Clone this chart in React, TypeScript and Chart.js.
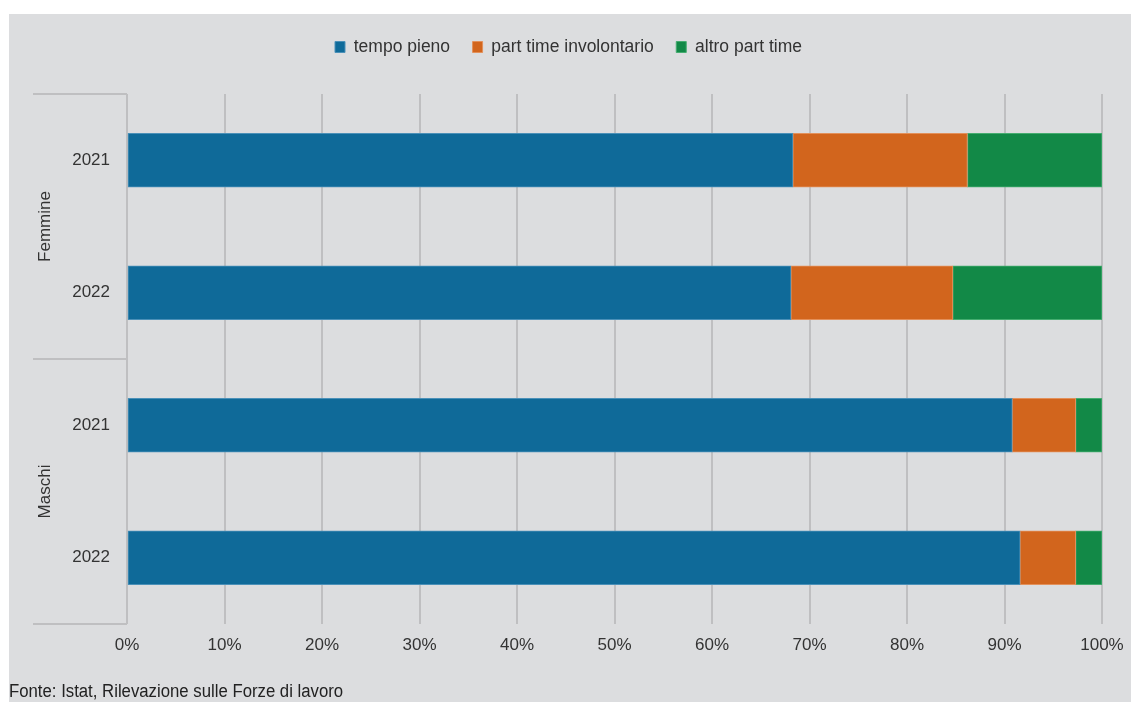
import React, { useEffect, useRef } from "react";
import { Chart, registerables } from "chart.js";

Chart.register(...registerables);

// ---- data ----
const yearLabels = ["2021", "2022", "2021", "2022"];
const groupLabels = ["Femmine", "Maschi"];
const seriesNames = ["tempo pieno", "part time involontario", "altro part time"];
const tempoPieno = [68.3, 68.1, 90.8, 91.6];
const partTimeInvolontario = [17.9, 16.6, 6.5, 5.7];
const altroPartTime = [13.8, 15.3, 2.7, 2.7];
const xTicks = [0, 10, 20, 30, 40, 50, 60, 70, 80, 90, 100];
const sourceNote = "Fonte: Istat, Rilevazione sulle Forze di lavoro";

const COLORS = ["#0f6a99", "#d2651d", "#128947"];
const BORDERS = ["#4a90b8", "#e3905a", "#45ad70"];
const GRID = "#bfbfc1";
const TEXT = "#333333";
const FONT = "'Liberation Sans', Arial, Helvetica, sans-serif";

const groupPlugin = {
  id: "groupAxis",
  afterLayout(chart: any) {
    // nudge the legend row to the reference position
    if (chart.legend) {
      chart.legend.left += 13;
      chart.legend.right += 13;
    }
  },
  afterDraw(chart: any) {
    const { ctx, chartArea } = chart;
    const y = chart.scales.y;
    const x0 = 24;
    const left = chartArea.left;
    const bounds = [
      y.getPixelForValue(0) - (y.getPixelForValue(1) - y.getPixelForValue(0)) / 2,
      (y.getPixelForValue(1) + y.getPixelForValue(2)) / 2,
      y.getPixelForValue(3) + (y.getPixelForValue(3) - y.getPixelForValue(2)) / 2,
    ];
    ctx.save();
    ctx.strokeStyle = GRID;
    ctx.lineWidth = 2;
    bounds.forEach((b) => {
      ctx.beginPath();
      ctx.moveTo(x0, Math.round(b));
      ctx.lineTo(left, Math.round(b));
      ctx.stroke();
    });
    ctx.fillStyle = TEXT;
    ctx.font = `17px ${FONT}`;
    ctx.textAlign = "center";
    ctx.textBaseline = "middle";
    groupLabels.forEach((g, i) => {
      const cy = (bounds[i] + bounds[i + 1]) / 2;
      ctx.save();
      ctx.translate(36, cy);
      ctx.rotate(-Math.PI / 2);
      ctx.fillText(g, 0, 0);
      ctx.restore();
    });
    ctx.restore();
  },
};

export default function App() {
  const ref = useRef<HTMLCanvasElement>(null);
  const noteRef = useRef<HTMLDivElement>(null);
  useEffect(() => {
    if (noteRef.current) {
      const w = noteRef.current.scrollWidth;
      if (w > 0) noteRef.current.style.transform = `scaleX(${334 / w})`;
    }
    if (!ref.current) return;
    const values = [tempoPieno, partTimeInvolontario, altroPartTime];
    const chart = new Chart(ref.current, {
      type: "bar",
      data: {
        labels: yearLabels,
        datasets: seriesNames.map((name, i) => ({
          label: name,
          data: values[i],
          backgroundColor: COLORS[i],
          borderColor: BORDERS[i],
          borderWidth: 1,
          borderSkipped: false,
          barThickness: 54,
        })),
      },
      options: {
        indexAxis: "y",
        responsive: false,
        animation: false,
        layout: { padding: { top: 1.75, right: 29, bottom: 0, left: 0 } },
        plugins: {
          tooltip: { enabled: false },
          title: {
            display: true,
            text: "",
            weight: 500,
            padding: 0,
            font: { size: 10, lineHeight: 2.825 },
          },
          legend: {
            position: "top",
            labels: {
              boxWidth: 10,
              boxHeight: 11,
              padding: 22.5,
              color: TEXT,
              font: { size: 17.5, family: FONT },
            },
          },
        },
        scales: {
          x: {
            stacked: true,
            min: 0,
            max: 100,
            afterFit: (s: any) => {
              s.height = 78;
              s.paddingLeft = 0;
              s.paddingRight = 0;
            },
            afterBuildTicks: (s: any) => {
              s.ticks = xTicks.map((v) => ({ value: v }));
            },
            grid: { color: GRID, lineWidth: 2, drawTicks: false },
            border: { display: false },
            ticks: {
              padding: 11,
              color: TEXT,
              font: { size: 17, family: FONT },
              callback: (v: any) => `${v}%`,
              maxRotation: 0,
            },
          },
          y: {
            stacked: true,
            afterFit: (s: any) => {
              s.width = 118;
              s.paddingTop = 0;
              s.paddingBottom = 0;
            },
            grid: { display: false, drawTicks: false },
            border: { display: false },
            ticks: {
              padding: 17,
              color: TEXT,
              font: { size: 17, family: FONT },
            },
          },
        },
      },
      plugins: [groupPlugin],
    });
    return () => chart.destroy();
  }, []);

  return (
    <div style={{ position: "fixed", inset: 0, background: "#ffffff", overflow: "hidden" }}>
      <div
        style={{
          position: "absolute",
          left: 9,
          top: 14,
          right: 0,
          bottom: 0,
          background: "#dcdddf",
          overflow: "hidden",
        }}
      >
        <canvas ref={ref} width={1122} height={688} style={{ display: "block" }} />
        <div
          ref={noteRef}
          style={{
            position: "absolute",
            left: 0,
            top: 667,
            fontFamily: FONT,
            fontSize: 18,
            lineHeight: "20px",
            color: "#222222",
            whiteSpace: "nowrap",
            transformOrigin: "0 0",
          }}
        >
          {sourceNote}
        </div>
      </div>
    </div>
  );
}
